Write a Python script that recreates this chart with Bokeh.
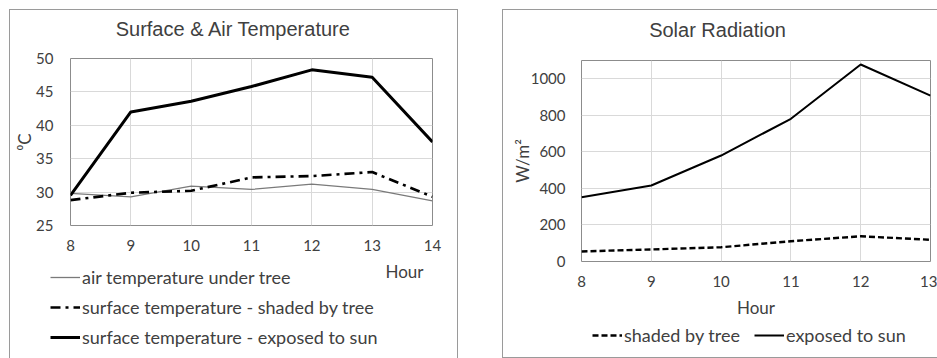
from bokeh.plotting import figure
from bokeh.models import Range1d, FixedTicker, Legend, LegendItem, Label, Spacer
from bokeh.layouts import row, column
from bokeh.embed import file_html
from bokeh.resources import INLINE

# ---- data: left chart (temperatures) ----
hours_temp = [8, 9, 10, 11, 12, 13, 14]
air_under_tree = [29.8, 29.3, 30.9, 30.4, 31.2, 30.4, 28.7]
surface_shaded = [28.8, 29.9, 30.2, 32.2, 32.4, 33.0, 29.3]
surface_sun = [29.5, 42.0, 43.6, 45.8, 48.3, 47.2, 37.5]
temp_yticks = [25, 30, 35, 40, 45, 50]

# ---- data: right chart (solar radiation) ----
hours_rad = [8, 9, 10, 11, 12, 13]
rad_shaded = [55, 66, 78, 111, 138, 119]
rad_sun = [352, 416, 580, 781, 1078, 908]
rad_yticks = [0, 200, 400, 600, 800, 1000]

TXT = "#404040"
TICKFONT = "Lato"
TITLEFONT = "Liberation Sans"
GRID = "#d9d9d9"
FRAME = "#8c8c8c"
PANEL = "1px solid #9a9a9a"

AIR = dict(line_color="#7a7a7a", line_width=1.3)
SHADED_T = dict(line_color="black", line_width=2.6, line_dash="10 5 3 5")
SUN_T = dict(line_color="black", line_width=3)
SHADED_R = dict(line_color="black", line_width=2.4, line_dash="6 3")
SUN_R = dict(line_color="black", line_width=2)


def blank(width, height, borders):
    """A figure without axes (holds a title or a legend)."""
    f = figure(width=width, height=height, output_backend="svg", toolbar_location=None,
               x_axis_location=None, y_axis_location=None, min_border=0,
               x_range=Range1d(0, 1), y_range=Range1d(0, 1),
               styles={b: PANEL for b in borders})
    f.grid.visible = False
    f.outline_line_color = None
    f.background_fill_color = "white"
    f.border_fill_color = "white"
    return f


def style(p, xticks, yticks):
    p.xaxis.ticker = FixedTicker(ticks=xticks)
    p.yaxis.ticker = FixedTicker(ticks=yticks)
    p.xgrid.ticker = FixedTicker(ticks=xticks)
    p.ygrid.ticker = FixedTicker(ticks=yticks)
    for ax in (p.xaxis, p.yaxis):
        ax.axis_line_color = None
        ax.major_tick_line_color = None
        ax.minor_tick_line_color = None
        ax.major_tick_out = 0
        ax.major_tick_in = 0
        ax.major_label_text_font = TICKFONT
        ax.major_label_text_font_size = "15px"
        ax.major_label_text_color = TXT
        ax.axis_label_text_font = TICKFONT
        ax.axis_label_text_font_size = "17px"
        ax.axis_label_text_font_style = "normal"
        ax.axis_label_text_color = TXT
    p.grid.grid_line_color = GRID
    p.grid.grid_line_width = 1
    p.outline_line_color = FRAME
    p.outline_line_width = 1
    p.background_fill_color = "white"
    p.border_fill_color = "white"


def legend(items, loc, orientation, glyph_width, spacing):
    return Legend(items=items, location=loc, orientation=orientation,
                  glyph_width=glyph_width, glyph_height=20, label_height=20,
                  spacing=spacing, padding=0, margin=0, label_standoff=2,
                  border_line_color=None, background_fill_alpha=0,
                  label_text_font=TICKFONT, label_text_font_size="18px",
                  label_text_color=TXT)


# ======================= left panel =======================
h1 = blank(449, 35, ["border-top", "border-left", "border-right"])
h1.add_layout(Label(x=163, y=17, x_units="screen", y_units="screen",
                    text="Surface & Air Temperature", text_align="center",
                    text_baseline="middle", text_font=TITLEFONT,
                    text_font_size="20px", text_color=TXT))

p1 = figure(width=449, height=214, output_backend="svg", toolbar_location=None,
            x_range=Range1d(8, 14), y_range=Range1d(25, 50),
            min_border_left=60, min_border_right=27, min_border_top=14, min_border_bottom=33,
            styles={"border-left": PANEL, "border-right": PANEL})
style(p1, hours_temp, temp_yticks)
p1.yaxis.axis_label = "\u2070C"
p1.yaxis.major_label_standoff = 17
p1.yaxis.axis_label_standoff = -2
p1.xaxis.major_label_standoff = 14

p1.line(hours_temp, air_under_tree, **AIR)
p1.line(hours_temp, surface_shaded, **SHADED_T)
p1.line(hours_temp, surface_sun, **SUN_T)

# legend box below the chart (its lines lie outside its own visible range)
f1 = blank(449, 100, ["border-left", "border-right"])
f1.add_layout(Label(x=394, y=87, x_units="screen", y_units="screen", text="Hour",
                    text_align="center", text_baseline="middle", text_font=TICKFONT,
                    text_font_size="17px", text_color=TXT))
l_air = f1.line(hours_temp, air_under_tree, **AIR)
l_sh = f1.line(hours_temp, surface_shaded, **SHADED_T)
l_sun = f1.line(hours_temp, surface_sun, **SUN_T)
f1.add_layout(legend([LegendItem(label="air temperature under tree", renderers=[l_air]),
                      LegendItem(label="surface temperature - shaded by tree", renderers=[l_sh]),
                      LegendItem(label="surface temperature - exposed to sun", renderers=[l_sun])],
                     (40, 10), "vertical", 30, 8), "center")

left = column(h1, p1, row(f1))

# ======================= right panel =======================
h2 = blank(435, 33, ["border-top", "border-left"])
h2.add_layout(Label(x=136, y=14, x_units="screen", y_units="screen",
                    text="Solar Radiation", text_align="center",
                    text_baseline="middle", text_font=TITLEFONT,
                    text_font_size="20px", text_color=TXT))

p2 = figure(width=435, height=280, output_backend="svg", toolbar_location=None,
            x_range=Range1d(8, 13), y_range=Range1d(0, 1100),
            min_border_left=78, min_border_right=8, min_border_top=18, min_border_bottom=61,
            styles={"border-left": PANEL})
style(p2, hours_rad, rad_yticks)
p2.yaxis.axis_label = "W/m\u00b2"
p2.yaxis.major_label_standoff = 16
p2.yaxis.axis_label_standoff = -5
p2.xaxis.major_label_standoff = 14
p2.xaxis.axis_label = "Hour"
p2.xaxis.axis_label_standoff = 7

p2.line(hours_rad, rad_shaded, **SHADED_R)
p2.line(hours_rad, rad_sun, **SUN_R)

f2 = blank(435, 36, ["border-left", "border-bottom"])
m_sh = f2.line(hours_rad, rad_shaded, **SHADED_R)
m_sun = f2.line(hours_rad, rad_sun, **SUN_R)
f2.add_layout(legend([LegendItem(label="shaded by tree", renderers=[m_sh]),
                      LegendItem(label="exposed to sun", renderers=[m_sun])],
                     (11, 12), "horizontal", 30, 14), "center")

right = column(h2, p2, f2)

layout = column(Spacer(height=9, width=10),
                row(Spacer(width=9, height=10), left, Spacer(width=44, height=10), right))
open("out.html", "w").write(file_html(layout, INLINE))
